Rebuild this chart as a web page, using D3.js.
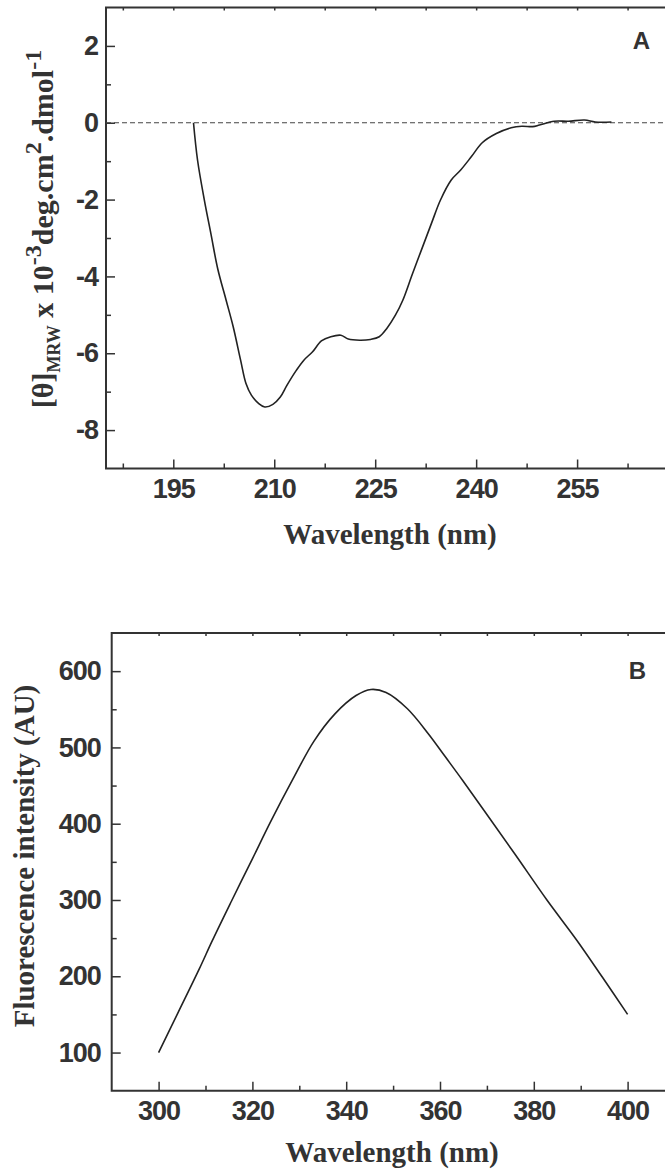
<!DOCTYPE html>
<html>
<head>
<meta charset="utf-8">
<script src="https://cdnjs.cloudflare.com/ajax/libs/d3/7.8.5/d3.min.js"></script>
<style>
  body { margin: 0; background: #fff; }
  svg { display: block; }
  .tick text { font-family: "Liberation Sans", Arial, sans-serif; font-weight: bold; font-size: 27px; fill: #333; }
  .axis-title { font-family: "Liberation Serif", "Times New Roman", serif; font-weight: bold; fill: #333; }
</style>
</head>
<body>
<svg id="chart" width="665" height="1176"></svg>
<script>
// ---- panel A: CD spectrum ----
const cdWavelength = [198, 198.6, 199.6, 200.6, 201.6, 202.85, 203.9, 205.0, 205.8, 206.6, 207.7, 208.6,
  209.8, 210.9, 211.9, 213.3, 214.4, 215.7, 217.0, 218.4, 219.9, 221.0, 222.7, 224.3, 225.6, 226.7,
  228.0, 229.1, 230.5, 232.0, 233.4, 234.7, 236.3, 237.7, 239.3, 240.9, 243.0, 245.2, 246.8, 248.4,
  249.4, 251.6, 253.7, 256.1, 257.7, 260.1];
const cdEllipticity = [0, -0.97, -2.0, -2.9, -3.8, -4.62, -5.31, -6.18, -6.79, -7.09, -7.31, -7.40,
  -7.33, -7.14, -6.83, -6.44, -6.18, -5.96, -5.68, -5.57, -5.53, -5.63, -5.66, -5.64, -5.57, -5.36,
  -5.01, -4.62, -3.95, -3.25, -2.6, -2.01, -1.49, -1.23, -0.88, -0.52, -0.28, -0.13, -0.09, -0.10,
  -0.06, 0.04, 0.04, 0.07, 0.02, 0.02];
const cdXTicks = [195, 210, 225, 240, 255];
const cdYTicks = [-8, -6, -4, -2, 0, 2];

// ---- panel B: fluorescence emission ----
const flWavelength = [300, 304.2, 308.7, 311.4, 315.5, 320, 324, 328.6, 333.1, 337.6, 342.1, 345.3,
  348.5, 353, 357.5, 361.1, 364.8, 370, 376, 382.8, 389.2, 394.6, 400];
const flIntensity = [100, 153, 210, 246, 298, 354, 404, 458, 508, 544, 568, 576,
  572, 551, 518, 488, 457, 412, 360, 300, 247, 199, 150];
const flXTicks = [300, 320, 340, 360, 380, 400];
const flYTicks = [100, 200, 300, 400, 500, 600];

const svg = d3.select("#chart");
const ink = "#333";

function panel(cfg) {
  const x = d3.scaleLinear().domain(cfg.xDomain).range(cfg.xRange);
  const y = d3.scaleLinear().domain(cfg.yDomain).range(cfg.yRange);
  const g = svg.append("g");
  const [x0, x1] = cfg.xRange, [yb, yt] = cfg.yRange;
  const plain = d => String(d);   // hyphen minus, like the original

  // minor ticks
  g.append("g").attr("transform", `translate(0,${yb})`)
    .call(d3.axisBottom(x).tickValues(cfg.xMinor).tickSize(-5).tickSizeOuter(0).tickFormat(""));
  g.append("g").attr("transform", `translate(${x0},0)`)
    .call(d3.axisLeft(y).tickValues(cfg.yMinor).tickSize(-5).tickSizeOuter(0).tickFormat(""));
  // top border ticks
  g.append("g").attr("transform", `translate(0,${yt})`)
    .call(d3.axisTop(x).tickValues(cfg.xMinor.concat(cfg.xTicks)).tickSize(-3).tickSizeOuter(0).tickFormat(""));
  // major ticks with labels
  g.append("g").attr("transform", `translate(0,${yb})`)
    .call(d3.axisBottom(x).tickValues(cfg.xTicks).tickSize(-9).tickSizeOuter(0).tickPadding(cfg.xPad).tickFormat(plain));
  g.append("g").attr("transform", `translate(${x0},0)`)
    .call(d3.axisLeft(y).tickValues(cfg.yTicks).tickSize(-9).tickSizeOuter(0).tickPadding(cfg.yPad).tickFormat(plain));

  g.selectAll(".domain").remove();
  g.selectAll(".tick line").attr("stroke", ink).attr("stroke-width", 1.5);
  g.selectAll(".tick text").attr("letter-spacing", "-1");

  // frame
  g.append("path")
    .attr("d", `M${x1},${yt}H${x0}V${yb}H${x1}`)
    .attr("fill", "none").attr("stroke", ink).attr("stroke-width", 2);

  return { g, x, y };
}

// ---- panel A ----
const A = panel({
  xDomain: [185, 269.5], xRange: [106, 106 + 84.5 * 6.73],
  yDomain: [-9, 3], yRange: [468.5, 7.5],
  xTicks: cdXTicks, xMinor: d3.range(187.5, 269, 15),
  yTicks: cdYTicks, yMinor: [-7, -5, -3, -1, 1],
  xPad: 10, yPad: 8
});

A.g.append("line")
  .attr("x1", A.x(185)).attr("x2", A.x(269.5))
  .attr("y1", A.y(0)).attr("y2", A.y(0))
  .attr("stroke", "#444").attr("stroke-width", 1.2).attr("stroke-dasharray", "5,3");

A.g.append("path")
  .datum(d3.zip(cdWavelength, cdEllipticity))
  .attr("fill", "none").attr("stroke", "#222").attr("stroke-width", 1.6)
  .attr("d", d3.line().x(d => A.x(d[0])).y(d => A.y(d[1])).curve(d3.curveCatmullRom));

A.g.append("text").attr("x", 641.5).attr("y", 48.5).attr("text-anchor", "middle")
  .style("font-family", "Liberation Sans, Arial, sans-serif").style("font-weight", "bold")
  .style("font-size", "24px").attr("fill", ink).text("A");

A.g.append("text").attr("class", "axis-title").attr("x", 390).attr("y", 544)
  .attr("text-anchor", "middle").style("font-size", "29px").text("Wavelength (nm)");

const yTitleA = A.g.append("text").attr("class", "axis-title")
  .attr("transform", "translate(53,229) rotate(-90)")
  .attr("text-anchor", "middle").style("font-size", "30px");
yTitleA.append("tspan").text("[θ]");
yTitleA.append("tspan").attr("dy", 7).style("font-size", "18px").text("MRW");
yTitleA.append("tspan").attr("dy", -7).text(" x 10");
yTitleA.append("tspan").attr("dy", -12).style("font-size", "24px").text("-3");
yTitleA.append("tspan").attr("dy", 12).text("deg.cm");
yTitleA.append("tspan").attr("dy", -12).style("font-size", "24px").text("2");
yTitleA.append("tspan").attr("dy", 12).text(".dmol");
yTitleA.append("tspan").attr("dy", -12).style("font-size", "24px").text("-1");

// ---- panel B ----
const B = panel({
  xDomain: [290, 409.5], xRange: [111.7, 111.7 + 119.5 * 4.69],
  yDomain: [50, 650], yRange: [1090.7, 633],
  xTicks: flXTicks, xMinor: d3.range(310, 410, 20),
  yTicks: flYTicks, yMinor: d3.range(150, 650, 100),
  xPad: 10, yPad: 11
});

B.g.append("path")
  .datum(d3.zip(flWavelength, flIntensity))
  .attr("fill", "none").attr("stroke", "#222").attr("stroke-width", 1.6)
  .attr("d", d3.line().x(d => B.x(d[0])).y(d => B.y(d[1])).curve(d3.curveCatmullRom));

B.g.append("text").attr("x", 637.5).attr("y", 678.5).attr("text-anchor", "middle")
  .style("font-family", "Liberation Sans, Arial, sans-serif").style("font-weight", "bold")
  .style("font-size", "24px").attr("fill", ink).text("B");

B.g.append("text").attr("class", "axis-title").attr("x", 392).attr("y", 1162)
  .attr("text-anchor", "middle").style("font-size", "29px").text("Wavelength (nm)");

B.g.append("text").attr("class", "axis-title")
  .attr("transform", "translate(34,856) rotate(-90)")
  .attr("text-anchor", "middle").style("font-size", "29px").text("Fluorescence intensity (AU)");
</script>
</body>
</html>
